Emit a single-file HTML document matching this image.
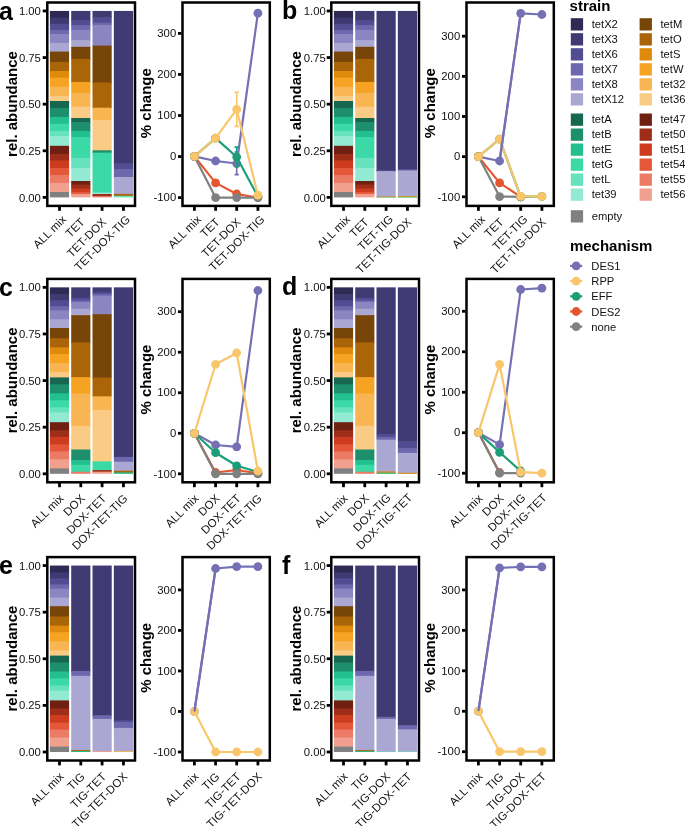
<!DOCTYPE html>
<html><head><meta charset="utf-8"><style>
html,body{margin:0;padding:0;background:#fff;}
svg{display:block;will-change:transform;}
</style></head><body>
<svg width="685" height="826" viewBox="0 0 685 826" font-family="Liberation Sans, sans-serif">
<rect width="685" height="826" fill="#fff"/>
<text x="-1" y="19.6" font-size="25" font-weight="bold" fill="#000">a</text>
<text transform="translate(17,104) rotate(-90)" text-anchor="middle" font-size="15" font-weight="bold" fill="#000">rel. abundance</text>
<rect x="49.9" y="10.95" width="19.2" height="7.55" fill="#2e2a53"/>
<rect x="49.9" y="17.7" width="19.2" height="6.9" fill="#3f3a72"/>
<rect x="49.9" y="23.8" width="19.2" height="6.8" fill="#524c93"/>
<rect x="49.9" y="29.8" width="19.2" height="5" fill="#6d67ae"/>
<rect x="49.9" y="34" width="19.2" height="9.7" fill="#8b85c1"/>
<rect x="49.9" y="42.9" width="19.2" height="9.5" fill="#aba7d3"/>
<rect x="49.9" y="51.6" width="19.2" height="11.1" fill="#784508"/>
<rect x="49.9" y="61.9" width="19.2" height="9.9" fill="#aa6508"/>
<rect x="49.9" y="71" width="19.2" height="7.4" fill="#df8a0c"/>
<rect x="49.9" y="77.6" width="19.2" height="9.9" fill="#f6a324"/>
<rect x="49.9" y="86.7" width="19.2" height="9.9" fill="#f8b552"/>
<rect x="49.9" y="95.8" width="19.2" height="6" fill="#f9cb85"/>
<rect x="49.9" y="101" width="19.2" height="7.7" fill="#176650"/>
<rect x="49.9" y="107.9" width="19.2" height="9.8" fill="#1d8f6c"/>
<rect x="49.9" y="116.9" width="19.2" height="7.7" fill="#22c08e"/>
<rect x="49.9" y="123.8" width="19.2" height="7.9" fill="#3ad9a6"/>
<rect x="49.9" y="130.9" width="19.2" height="5.9" fill="#66e2bc"/>
<rect x="49.9" y="136" width="19.2" height="10.6" fill="#93ead2"/>
<rect x="49.9" y="145.8" width="19.2" height="8.9" fill="#6f2013"/>
<rect x="49.9" y="153.9" width="19.2" height="7.4" fill="#9e2e19"/>
<rect x="49.9" y="160.5" width="19.2" height="8.3" fill="#cd3c1e"/>
<rect x="49.9" y="168" width="19.2" height="7.8" fill="#e4573a"/>
<rect x="49.9" y="175" width="19.2" height="8.7" fill="#eb7b65"/>
<rect x="49.9" y="182.9" width="19.2" height="9.9" fill="#f19f8f"/>
<rect x="49.9" y="192" width="19.2" height="5.4" fill="#808080"/>
<rect x="71.2" y="10.95" width="19.2" height="9.95" fill="#3f3a72"/>
<rect x="71.2" y="20.1" width="19.2" height="5.7" fill="#524c93"/>
<rect x="71.2" y="25" width="19.2" height="5.6" fill="#6d67ae"/>
<rect x="71.2" y="29.8" width="19.2" height="11.1" fill="#8b85c1"/>
<rect x="71.2" y="40.1" width="19.2" height="7.5" fill="#aba7d3"/>
<rect x="71.2" y="46.8" width="19.2" height="12.9" fill="#784508"/>
<rect x="71.2" y="58.9" width="19.2" height="23.8" fill="#aa6508"/>
<rect x="71.2" y="81.9" width="19.2" height="11.7" fill="#f6a324"/>
<rect x="71.2" y="92.8" width="19.2" height="14.7" fill="#f8b552"/>
<rect x="71.2" y="106.7" width="19.2" height="12.1" fill="#f9cb85"/>
<rect x="71.2" y="118" width="19.2" height="4.8" fill="#176650"/>
<rect x="71.2" y="122" width="19.2" height="9.7" fill="#1d8f6c"/>
<rect x="71.2" y="130.9" width="19.2" height="6.9" fill="#22c08e"/>
<rect x="71.2" y="137" width="19.2" height="21.7" fill="#3ad9a6"/>
<rect x="71.2" y="157.9" width="19.2" height="10.8" fill="#66e2bc"/>
<rect x="71.2" y="167.9" width="19.2" height="13.9" fill="#93ead2"/>
<rect x="71.2" y="181" width="19.2" height="4.4" fill="#6f2013"/>
<rect x="71.2" y="184.6" width="19.2" height="4.7" fill="#9e2e19"/>
<rect x="71.2" y="188.5" width="19.2" height="4.2" fill="#cd3c1e"/>
<rect x="71.2" y="191.9" width="19.2" height="2.8" fill="#e4573a"/>
<rect x="71.2" y="193.9" width="19.2" height="3.5" fill="#f19f8f"/>
<rect x="92.5" y="10.95" width="19.2" height="6.95" fill="#3f3a72"/>
<rect x="92.5" y="17.1" width="19.2" height="6.3" fill="#524c93"/>
<rect x="92.5" y="22.6" width="19.2" height="3.2" fill="#6d67ae"/>
<rect x="92.5" y="25" width="19.2" height="21.4" fill="#8b85c1"/>
<rect x="92.5" y="45.6" width="19.2" height="37.7" fill="#784508"/>
<rect x="92.5" y="82.5" width="19.2" height="26" fill="#aa6508"/>
<rect x="92.5" y="107.7" width="19.2" height="13.1" fill="#f8b552"/>
<rect x="92.5" y="120" width="19.2" height="31.1" fill="#f9cb85"/>
<rect x="92.5" y="150.3" width="19.2" height="3.1" fill="#1d8f6c"/>
<rect x="92.5" y="152.6" width="19.2" height="40.7" fill="#3ad9a6"/>
<rect x="92.5" y="192.5" width="19.2" height="2.3" fill="#93ead2"/>
<rect x="92.5" y="194" width="19.2" height="2.8" fill="#9e2e19"/>
<rect x="92.5" y="196" width="19.2" height="1.4" fill="#eb7b65"/>
<rect x="113.85" y="10.95" width="19.2" height="153.05" fill="#3f3a72"/>
<rect x="113.85" y="163.2" width="19.2" height="6.6" fill="#524c93"/>
<rect x="113.85" y="169" width="19.2" height="8.8" fill="#6d67ae"/>
<rect x="113.85" y="177" width="19.2" height="17.7" fill="#aba7d3"/>
<rect x="113.85" y="193.9" width="19.2" height="2.7" fill="#aa6508"/>
<rect x="113.85" y="195.8" width="19.2" height="1.6" fill="#66e2bc"/>
<rect x="47.3" y="2.5" width="87.7" height="203.4" fill="none" stroke="#000" stroke-width="2.5"/>
<line x1="42.7" x2="46.3" y1="10.95" y2="10.95" stroke="#000" stroke-width="2.8"/>
<text x="40.9" y="15.05" text-anchor="end" font-size="11.3" fill="#111">1.00</text>
<line x1="42.7" x2="46.3" y1="57.56" y2="57.56" stroke="#000" stroke-width="2.8"/>
<text x="40.9" y="61.66" text-anchor="end" font-size="11.3" fill="#111">0.75</text>
<line x1="42.7" x2="46.3" y1="104.18" y2="104.18" stroke="#000" stroke-width="2.8"/>
<text x="40.9" y="108.28" text-anchor="end" font-size="11.3" fill="#111">0.50</text>
<line x1="42.7" x2="46.3" y1="150.79" y2="150.79" stroke="#000" stroke-width="2.8"/>
<text x="40.9" y="154.89" text-anchor="end" font-size="11.3" fill="#111">0.25</text>
<line x1="42.7" x2="46.3" y1="197.4" y2="197.4" stroke="#000" stroke-width="2.8"/>
<text x="40.9" y="201.5" text-anchor="end" font-size="11.3" fill="#111">0.00</text>
<line x1="59.5" x2="59.5" y1="206.5" y2="210.8" stroke="#000" stroke-width="2.8"/>
<text transform="translate(66.92,220.08) rotate(-45)" text-anchor="end" font-size="11.5" fill="#111">ALL mix</text>
<line x1="80.8" x2="80.8" y1="206.5" y2="210.8" stroke="#000" stroke-width="2.8"/>
<text transform="translate(85.6,222.7) rotate(-45)" text-anchor="end" font-size="11.5" fill="#111">TET</text>
<line x1="102.1" x2="102.1" y1="206.5" y2="210.8" stroke="#000" stroke-width="2.8"/>
<text transform="translate(106.9,222.7) rotate(-45)" text-anchor="end" font-size="11.5" fill="#111">TET-DOX</text>
<line x1="123.45" x2="123.45" y1="206.5" y2="210.8" stroke="#000" stroke-width="2.8"/>
<text transform="translate(130.87,220.08) rotate(-45)" text-anchor="end" font-size="11.5" fill="#111">TET-DOX-TIG</text>
<text transform="translate(150.9,103.2) rotate(-90)" text-anchor="middle" font-size="15" font-weight="bold" fill="#000">% change</text>
<line x1="178" x2="181.5" y1="33.4" y2="33.4" stroke="#000" stroke-width="2.8"/>
<text x="176.2" y="37.1" text-anchor="end" font-size="11.3" fill="#111">300</text>
<line x1="178" x2="181.5" y1="74.45" y2="74.45" stroke="#000" stroke-width="2.8"/>
<text x="176.2" y="78.15" text-anchor="end" font-size="11.3" fill="#111">200</text>
<line x1="178" x2="181.5" y1="115.5" y2="115.5" stroke="#000" stroke-width="2.8"/>
<text x="176.2" y="119.2" text-anchor="end" font-size="11.3" fill="#111">100</text>
<line x1="178" x2="181.5" y1="156.55" y2="156.55" stroke="#000" stroke-width="2.8"/>
<text x="176.2" y="160.25" text-anchor="end" font-size="11.3" fill="#111">0</text>
<line x1="178" x2="181.5" y1="197.6" y2="197.6" stroke="#000" stroke-width="2.8"/>
<text x="176.2" y="201.3" text-anchor="end" font-size="11.3" fill="#111">-100</text>
<line x1="194.4" x2="194.4" y1="206.5" y2="210.8" stroke="#000" stroke-width="2.8"/>
<text transform="translate(201.82,220.08) rotate(-45)" text-anchor="end" font-size="11.5" fill="#111">ALL mix</text>
<line x1="215.6" x2="215.6" y1="206.5" y2="210.8" stroke="#000" stroke-width="2.8"/>
<text transform="translate(220.4,222.7) rotate(-45)" text-anchor="end" font-size="11.5" fill="#111">TET</text>
<line x1="236.7" x2="236.7" y1="206.5" y2="210.8" stroke="#000" stroke-width="2.8"/>
<text transform="translate(241.5,222.7) rotate(-45)" text-anchor="end" font-size="11.5" fill="#111">TET-DOX</text>
<line x1="257.9" x2="257.9" y1="206.5" y2="210.8" stroke="#000" stroke-width="2.8"/>
<text transform="translate(265.32,220.08) rotate(-45)" text-anchor="end" font-size="11.5" fill="#111">TET-DOX-TIG</text>
<polyline points="194.4,156.4 215.6,161 236.7,163.5 257.9,13.2" fill="none" stroke="#7570b3" stroke-width="2.2" stroke-linejoin="round"/>
<circle cx="194.4" cy="156.4" r="4.4" fill="#7570b3"/>
<circle cx="215.6" cy="161" r="4.4" fill="#7570b3"/>
<circle cx="236.7" cy="163.5" r="4.4" fill="#7570b3"/>
<circle cx="257.9" cy="13.2" r="4.4" fill="#7570b3"/>
<path d="M236.7,152V174.6M234.5,152H238.9M234.5,174.6H238.9" stroke="#7570b3" stroke-width="1.6" fill="none"/>
<polyline points="194.4,156.4 215.6,182.9 236.7,194 257.9,197.6" fill="none" stroke="#e4572e" stroke-width="2.2" stroke-linejoin="round"/>
<circle cx="194.4" cy="156.4" r="4.4" fill="#e4572e"/>
<circle cx="215.6" cy="182.9" r="4.4" fill="#e4572e"/>
<circle cx="236.7" cy="194" r="4.4" fill="#e4572e"/>
<circle cx="257.9" cy="197.6" r="4.4" fill="#e4572e"/>
<polyline points="194.4,156.4 215.6,138.1 236.7,157 257.9,196.5" fill="none" stroke="#1b9e77" stroke-width="2.2" stroke-linejoin="round"/>
<circle cx="194.4" cy="156.4" r="4.4" fill="#1b9e77"/>
<circle cx="215.6" cy="138.1" r="4.4" fill="#1b9e77"/>
<circle cx="236.7" cy="157" r="4.4" fill="#1b9e77"/>
<circle cx="257.9" cy="196.5" r="4.4" fill="#1b9e77"/>
<path d="M215.6,135.5V140.8M213.4,135.5H217.8M213.4,140.8H217.8" stroke="#1b9e77" stroke-width="1.6" fill="none"/>
<path d="M236.7,147.1V166.6M234.5,147.1H238.9M234.5,166.6H238.9" stroke="#1b9e77" stroke-width="1.6" fill="none"/>
<polyline points="194.4,156.4 215.6,197.6 236.7,197.6 257.9,197.6" fill="none" stroke="#808080" stroke-width="2.2" stroke-linejoin="round"/>
<circle cx="194.4" cy="156.4" r="4.4" fill="#808080"/>
<circle cx="215.6" cy="197.6" r="4.4" fill="#808080"/>
<circle cx="236.7" cy="197.6" r="4.4" fill="#808080"/>
<circle cx="257.9" cy="197.6" r="4.4" fill="#808080"/>
<polyline points="194.4,156.4 215.6,138.1 236.7,109.4 257.9,195.2" fill="none" stroke="#f9c66b" stroke-width="2.2" stroke-linejoin="round"/>
<circle cx="194.4" cy="156.4" r="4.4" fill="#f9c66b"/>
<circle cx="215.6" cy="138.1" r="4.4" fill="#f9c66b"/>
<circle cx="236.7" cy="109.4" r="4.4" fill="#f9c66b"/>
<circle cx="257.9" cy="195.2" r="4.4" fill="#f9c66b"/>
<path d="M236.7,92.2V126.4M234.5,92.2H238.9M234.5,126.4H238.9" stroke="#f9c66b" stroke-width="1.6" fill="none"/>
<rect x="182.5" y="2.5" width="87.3" height="203.4" fill="none" stroke="#000" stroke-width="2.5"/>
<text x="282" y="18.9" font-size="25" font-weight="bold" fill="#000">b</text>
<text transform="translate(301,104) rotate(-90)" text-anchor="middle" font-size="15" font-weight="bold" fill="#000">rel. abundance</text>
<rect x="333.9" y="10.95" width="19.2" height="7.55" fill="#2e2a53"/>
<rect x="333.9" y="17.7" width="19.2" height="6.9" fill="#3f3a72"/>
<rect x="333.9" y="23.8" width="19.2" height="6.8" fill="#524c93"/>
<rect x="333.9" y="29.8" width="19.2" height="5" fill="#6d67ae"/>
<rect x="333.9" y="34" width="19.2" height="9.7" fill="#8b85c1"/>
<rect x="333.9" y="42.9" width="19.2" height="9.5" fill="#aba7d3"/>
<rect x="333.9" y="51.6" width="19.2" height="11.1" fill="#784508"/>
<rect x="333.9" y="61.9" width="19.2" height="9.9" fill="#aa6508"/>
<rect x="333.9" y="71" width="19.2" height="7.4" fill="#df8a0c"/>
<rect x="333.9" y="77.6" width="19.2" height="9.9" fill="#f6a324"/>
<rect x="333.9" y="86.7" width="19.2" height="9.9" fill="#f8b552"/>
<rect x="333.9" y="95.8" width="19.2" height="6" fill="#f9cb85"/>
<rect x="333.9" y="101" width="19.2" height="7.7" fill="#176650"/>
<rect x="333.9" y="107.9" width="19.2" height="9.8" fill="#1d8f6c"/>
<rect x="333.9" y="116.9" width="19.2" height="7.7" fill="#22c08e"/>
<rect x="333.9" y="123.8" width="19.2" height="7.9" fill="#3ad9a6"/>
<rect x="333.9" y="130.9" width="19.2" height="5.9" fill="#66e2bc"/>
<rect x="333.9" y="136" width="19.2" height="10.6" fill="#93ead2"/>
<rect x="333.9" y="145.8" width="19.2" height="8.9" fill="#6f2013"/>
<rect x="333.9" y="153.9" width="19.2" height="7.4" fill="#9e2e19"/>
<rect x="333.9" y="160.5" width="19.2" height="8.3" fill="#cd3c1e"/>
<rect x="333.9" y="168" width="19.2" height="7.8" fill="#e4573a"/>
<rect x="333.9" y="175" width="19.2" height="8.7" fill="#eb7b65"/>
<rect x="333.9" y="182.9" width="19.2" height="9.9" fill="#f19f8f"/>
<rect x="333.9" y="192" width="19.2" height="5.4" fill="#808080"/>
<rect x="355.2" y="10.95" width="19.2" height="9.95" fill="#3f3a72"/>
<rect x="355.2" y="20.1" width="19.2" height="5.7" fill="#524c93"/>
<rect x="355.2" y="25" width="19.2" height="5.6" fill="#6d67ae"/>
<rect x="355.2" y="29.8" width="19.2" height="11.1" fill="#8b85c1"/>
<rect x="355.2" y="40.1" width="19.2" height="7.5" fill="#aba7d3"/>
<rect x="355.2" y="46.8" width="19.2" height="12.9" fill="#784508"/>
<rect x="355.2" y="58.9" width="19.2" height="23.8" fill="#aa6508"/>
<rect x="355.2" y="81.9" width="19.2" height="11.7" fill="#f6a324"/>
<rect x="355.2" y="92.8" width="19.2" height="14.7" fill="#f8b552"/>
<rect x="355.2" y="106.7" width="19.2" height="12.1" fill="#f9cb85"/>
<rect x="355.2" y="118" width="19.2" height="4.8" fill="#176650"/>
<rect x="355.2" y="122" width="19.2" height="9.7" fill="#1d8f6c"/>
<rect x="355.2" y="130.9" width="19.2" height="6.9" fill="#22c08e"/>
<rect x="355.2" y="137" width="19.2" height="21.7" fill="#3ad9a6"/>
<rect x="355.2" y="157.9" width="19.2" height="10.8" fill="#66e2bc"/>
<rect x="355.2" y="167.9" width="19.2" height="13.9" fill="#93ead2"/>
<rect x="355.2" y="181" width="19.2" height="4.4" fill="#6f2013"/>
<rect x="355.2" y="184.6" width="19.2" height="4.7" fill="#9e2e19"/>
<rect x="355.2" y="188.5" width="19.2" height="4.2" fill="#cd3c1e"/>
<rect x="355.2" y="191.9" width="19.2" height="2.8" fill="#e4573a"/>
<rect x="355.2" y="193.9" width="19.2" height="3.5" fill="#f19f8f"/>
<rect x="376.5" y="10.95" width="19.2" height="159.85" fill="#3f3a72"/>
<rect x="376.5" y="170" width="19.2" height="1.9" fill="#524c93"/>
<rect x="376.5" y="171.1" width="19.2" height="26.2" fill="#aba7d3"/>
<rect x="376.5" y="196.5" width="19.2" height="0.9" fill="#df8a0c"/>
<rect x="376.5" y="197" width="19.2" height="0.4" fill="#3ad9a6"/>
<rect x="397.85" y="10.95" width="19.2" height="159.35" fill="#3f3a72"/>
<rect x="397.85" y="169.5" width="19.2" height="1.8" fill="#6d67ae"/>
<rect x="397.85" y="170.5" width="19.2" height="26.3" fill="#aba7d3"/>
<rect x="397.85" y="196" width="19.2" height="1.4" fill="#df8a0c"/>
<rect x="397.85" y="196.8" width="19.2" height="0.6" fill="#3ad9a6"/>
<rect x="331.3" y="2.5" width="87.7" height="203.4" fill="none" stroke="#000" stroke-width="2.5"/>
<line x1="326.7" x2="330.3" y1="10.95" y2="10.95" stroke="#000" stroke-width="2.8"/>
<text x="325.8" y="15.05" text-anchor="end" font-size="11.3" fill="#111">1.00</text>
<line x1="326.7" x2="330.3" y1="57.56" y2="57.56" stroke="#000" stroke-width="2.8"/>
<text x="325.8" y="61.66" text-anchor="end" font-size="11.3" fill="#111">0.75</text>
<line x1="326.7" x2="330.3" y1="104.18" y2="104.18" stroke="#000" stroke-width="2.8"/>
<text x="325.8" y="108.28" text-anchor="end" font-size="11.3" fill="#111">0.50</text>
<line x1="326.7" x2="330.3" y1="150.79" y2="150.79" stroke="#000" stroke-width="2.8"/>
<text x="325.8" y="154.89" text-anchor="end" font-size="11.3" fill="#111">0.25</text>
<line x1="326.7" x2="330.3" y1="197.4" y2="197.4" stroke="#000" stroke-width="2.8"/>
<text x="325.8" y="201.5" text-anchor="end" font-size="11.3" fill="#111">0.00</text>
<line x1="343.5" x2="343.5" y1="206.5" y2="210.8" stroke="#000" stroke-width="2.8"/>
<text transform="translate(350.92,220.08) rotate(-45)" text-anchor="end" font-size="11.5" fill="#111">ALL mix</text>
<line x1="364.8" x2="364.8" y1="206.5" y2="210.8" stroke="#000" stroke-width="2.8"/>
<text transform="translate(369.6,222.7) rotate(-45)" text-anchor="end" font-size="11.5" fill="#111">TET</text>
<line x1="386.1" x2="386.1" y1="206.5" y2="210.8" stroke="#000" stroke-width="2.8"/>
<text transform="translate(393.73,219.87) rotate(-45)" text-anchor="end" font-size="11.5" fill="#111">TET-TIG</text>
<line x1="407.45" x2="407.45" y1="206.5" y2="210.8" stroke="#000" stroke-width="2.8"/>
<text transform="translate(412.25,222.7) rotate(-45)" text-anchor="end" font-size="11.5" fill="#111">TET-TIG-DOX</text>
<text transform="translate(434.9,103.2) rotate(-90)" text-anchor="middle" font-size="15" font-weight="bold" fill="#000">% change</text>
<line x1="462" x2="465.5" y1="36.2" y2="36.2" stroke="#000" stroke-width="2.8"/>
<text x="460.2" y="39.9" text-anchor="end" font-size="11.3" fill="#111">300</text>
<line x1="462" x2="465.5" y1="76.35" y2="76.35" stroke="#000" stroke-width="2.8"/>
<text x="460.2" y="80.05" text-anchor="end" font-size="11.3" fill="#111">200</text>
<line x1="462" x2="465.5" y1="116.5" y2="116.5" stroke="#000" stroke-width="2.8"/>
<text x="460.2" y="120.2" text-anchor="end" font-size="11.3" fill="#111">100</text>
<line x1="462" x2="465.5" y1="156.65" y2="156.65" stroke="#000" stroke-width="2.8"/>
<text x="460.2" y="160.35" text-anchor="end" font-size="11.3" fill="#111">0</text>
<line x1="462" x2="465.5" y1="196.8" y2="196.8" stroke="#000" stroke-width="2.8"/>
<text x="460.2" y="200.5" text-anchor="end" font-size="11.3" fill="#111">-100</text>
<line x1="478.4" x2="478.4" y1="206.5" y2="210.8" stroke="#000" stroke-width="2.8"/>
<text transform="translate(485.82,220.08) rotate(-45)" text-anchor="end" font-size="11.5" fill="#111">ALL mix</text>
<line x1="499.6" x2="499.6" y1="206.5" y2="210.8" stroke="#000" stroke-width="2.8"/>
<text transform="translate(504.4,222.7) rotate(-45)" text-anchor="end" font-size="11.5" fill="#111">TET</text>
<line x1="520.7" x2="520.7" y1="206.5" y2="210.8" stroke="#000" stroke-width="2.8"/>
<text transform="translate(528.33,219.87) rotate(-45)" text-anchor="end" font-size="11.5" fill="#111">TET-TIG</text>
<line x1="541.9" x2="541.9" y1="206.5" y2="210.8" stroke="#000" stroke-width="2.8"/>
<text transform="translate(546.7,222.7) rotate(-45)" text-anchor="end" font-size="11.5" fill="#111">TET-TIG-DOX</text>
<polyline points="478.4,156.6 499.6,161 520.7,13.3 541.9,14.5" fill="none" stroke="#7570b3" stroke-width="2.2" stroke-linejoin="round"/>
<circle cx="478.4" cy="156.6" r="4.4" fill="#7570b3"/>
<circle cx="499.6" cy="161" r="4.4" fill="#7570b3"/>
<circle cx="520.7" cy="13.3" r="4.4" fill="#7570b3"/>
<circle cx="541.9" cy="14.5" r="4.4" fill="#7570b3"/>
<polyline points="478.4,156.6 499.6,182.9 520.7,196.8" fill="none" stroke="#e4572e" stroke-width="2.2" stroke-linejoin="round"/>
<circle cx="478.4" cy="156.6" r="4.4" fill="#e4572e"/>
<circle cx="499.6" cy="182.9" r="4.4" fill="#e4572e"/>
<circle cx="520.7" cy="196.8" r="4.4" fill="#e4572e"/>
<polyline points="478.4,156.6 499.6,139.1 520.7,196.8 541.9,196.4" fill="none" stroke="#1b9e77" stroke-width="2.2" stroke-linejoin="round"/>
<circle cx="478.4" cy="156.6" r="4.4" fill="#1b9e77"/>
<circle cx="499.6" cy="139.1" r="4.4" fill="#1b9e77"/>
<circle cx="520.7" cy="196.8" r="4.4" fill="#1b9e77"/>
<circle cx="541.9" cy="196.4" r="4.4" fill="#1b9e77"/>
<path d="M499.6,136.5V141.5M497.4,136.5H501.8M497.4,141.5H501.8" stroke="#1b9e77" stroke-width="1.6" fill="none"/>
<path d="M541.9,194V199M539.7,194H544.1M539.7,199H544.1" stroke="#1b9e77" stroke-width="1.6" fill="none"/>
<polyline points="478.4,156.6 499.6,196.6 520.7,196.8" fill="none" stroke="#808080" stroke-width="2.2" stroke-linejoin="round"/>
<circle cx="478.4" cy="156.6" r="4.4" fill="#808080"/>
<circle cx="499.6" cy="196.6" r="4.4" fill="#808080"/>
<circle cx="520.7" cy="196.8" r="4.4" fill="#808080"/>
<polyline points="478.4,156.6 499.6,139.1 520.7,196.4 541.9,196.4" fill="none" stroke="#f9c66b" stroke-width="2.2" stroke-linejoin="round"/>
<circle cx="478.4" cy="156.6" r="4.4" fill="#f9c66b"/>
<circle cx="499.6" cy="139.1" r="4.4" fill="#f9c66b"/>
<circle cx="520.7" cy="196.4" r="4.4" fill="#f9c66b"/>
<circle cx="541.9" cy="196.4" r="4.4" fill="#f9c66b"/>
<polyline points="499.6,161 520.7,13.3" fill="none" stroke="#7570b3" stroke-width="2.2"/>
<rect x="466.5" y="2.5" width="87.3" height="203.4" fill="none" stroke="#000" stroke-width="2.5"/>
<text x="-1" y="296" font-size="25" font-weight="bold" fill="#000">c</text>
<text transform="translate(17,380.4) rotate(-90)" text-anchor="middle" font-size="15" font-weight="bold" fill="#000">rel. abundance</text>
<rect x="49.9" y="287.35" width="19.2" height="7.55" fill="#2e2a53"/>
<rect x="49.9" y="294.1" width="19.2" height="6.9" fill="#3f3a72"/>
<rect x="49.9" y="300.2" width="19.2" height="6.8" fill="#524c93"/>
<rect x="49.9" y="306.2" width="19.2" height="5" fill="#6d67ae"/>
<rect x="49.9" y="310.4" width="19.2" height="9.7" fill="#8b85c1"/>
<rect x="49.9" y="319.3" width="19.2" height="9.5" fill="#aba7d3"/>
<rect x="49.9" y="328" width="19.2" height="11.1" fill="#784508"/>
<rect x="49.9" y="338.3" width="19.2" height="9.9" fill="#aa6508"/>
<rect x="49.9" y="347.4" width="19.2" height="7.4" fill="#df8a0c"/>
<rect x="49.9" y="354" width="19.2" height="9.9" fill="#f6a324"/>
<rect x="49.9" y="363.1" width="19.2" height="9.9" fill="#f8b552"/>
<rect x="49.9" y="372.2" width="19.2" height="6" fill="#f9cb85"/>
<rect x="49.9" y="377.4" width="19.2" height="7.7" fill="#176650"/>
<rect x="49.9" y="384.3" width="19.2" height="9.8" fill="#1d8f6c"/>
<rect x="49.9" y="393.3" width="19.2" height="7.7" fill="#22c08e"/>
<rect x="49.9" y="400.2" width="19.2" height="7.9" fill="#3ad9a6"/>
<rect x="49.9" y="407.3" width="19.2" height="5.9" fill="#66e2bc"/>
<rect x="49.9" y="412.4" width="19.2" height="10.6" fill="#93ead2"/>
<rect x="49.9" y="422.2" width="19.2" height="8.9" fill="#6f2013"/>
<rect x="49.9" y="430.3" width="19.2" height="7.4" fill="#9e2e19"/>
<rect x="49.9" y="436.9" width="19.2" height="8.3" fill="#cd3c1e"/>
<rect x="49.9" y="444.4" width="19.2" height="7.8" fill="#e4573a"/>
<rect x="49.9" y="451.4" width="19.2" height="8.7" fill="#eb7b65"/>
<rect x="49.9" y="459.3" width="19.2" height="9.9" fill="#f19f8f"/>
<rect x="49.9" y="468.4" width="19.2" height="5.4" fill="#808080"/>
<rect x="71.2" y="287.35" width="19.2" height="11.25" fill="#3f3a72"/>
<rect x="71.2" y="297.8" width="19.2" height="3.4" fill="#524c93"/>
<rect x="71.2" y="300.4" width="19.2" height="2.3" fill="#6d67ae"/>
<rect x="71.2" y="301.9" width="19.2" height="7.6" fill="#8b85c1"/>
<rect x="71.2" y="308.7" width="19.2" height="7.3" fill="#aba7d3"/>
<rect x="71.2" y="315.2" width="19.2" height="28" fill="#784508"/>
<rect x="71.2" y="342.4" width="19.2" height="35.5" fill="#aa6508"/>
<rect x="71.2" y="377.1" width="19.2" height="17.2" fill="#f6a324"/>
<rect x="71.2" y="393.5" width="19.2" height="33.1" fill="#f8b552"/>
<rect x="71.2" y="425.8" width="19.2" height="24.5" fill="#f9cb85"/>
<rect x="71.2" y="449.5" width="19.2" height="11.3" fill="#1d8f6c"/>
<rect x="71.2" y="460" width="19.2" height="5.6" fill="#22c08e"/>
<rect x="71.2" y="464.8" width="19.2" height="7.7" fill="#3ad9a6"/>
<rect x="71.2" y="471.7" width="19.2" height="2.1" fill="#eb7b65"/>
<rect x="92.5" y="287.35" width="19.2" height="5.35" fill="#3f3a72"/>
<rect x="92.5" y="291.9" width="19.2" height="2.8" fill="#524c93"/>
<rect x="92.5" y="293.9" width="19.2" height="2.6" fill="#6d67ae"/>
<rect x="92.5" y="295.7" width="19.2" height="19.3" fill="#8b85c1"/>
<rect x="92.5" y="314.2" width="19.2" height="64.1" fill="#784508"/>
<rect x="92.5" y="377.5" width="19.2" height="19.6" fill="#aa6508"/>
<rect x="92.5" y="396.3" width="19.2" height="14.5" fill="#f8b552"/>
<rect x="92.5" y="410" width="19.2" height="52.2" fill="#f9cb85"/>
<rect x="92.5" y="461.4" width="19.2" height="9.5" fill="#3ad9a6"/>
<rect x="92.5" y="470.1" width="19.2" height="2.4" fill="#9e2e19"/>
<rect x="92.5" y="471.7" width="19.2" height="2.1" fill="#f19f8f"/>
<rect x="113.85" y="287.35" width="19.2" height="170.35" fill="#3f3a72"/>
<rect x="113.85" y="456.9" width="19.2" height="5.6" fill="#6d67ae"/>
<rect x="113.85" y="461.7" width="19.2" height="9.8" fill="#aba7d3"/>
<rect x="113.85" y="470.7" width="19.2" height="2.5" fill="#aa6508"/>
<rect x="113.85" y="472.4" width="19.2" height="1.4" fill="#22c08e"/>
<rect x="47.3" y="278.9" width="87.7" height="203.4" fill="none" stroke="#000" stroke-width="2.5"/>
<line x1="42.7" x2="46.3" y1="287.35" y2="287.35" stroke="#000" stroke-width="2.8"/>
<text x="40.9" y="291.45" text-anchor="end" font-size="11.3" fill="#111">1.00</text>
<line x1="42.7" x2="46.3" y1="333.96" y2="333.96" stroke="#000" stroke-width="2.8"/>
<text x="40.9" y="338.06" text-anchor="end" font-size="11.3" fill="#111">0.75</text>
<line x1="42.7" x2="46.3" y1="380.57" y2="380.57" stroke="#000" stroke-width="2.8"/>
<text x="40.9" y="384.68" text-anchor="end" font-size="11.3" fill="#111">0.50</text>
<line x1="42.7" x2="46.3" y1="427.19" y2="427.19" stroke="#000" stroke-width="2.8"/>
<text x="40.9" y="431.29" text-anchor="end" font-size="11.3" fill="#111">0.25</text>
<line x1="42.7" x2="46.3" y1="473.8" y2="473.8" stroke="#000" stroke-width="2.8"/>
<text x="40.9" y="477.9" text-anchor="end" font-size="11.3" fill="#111">0.00</text>
<line x1="59.5" x2="59.5" y1="482.9" y2="487.2" stroke="#000" stroke-width="2.8"/>
<text transform="translate(64.3,499.1) rotate(-45)" text-anchor="end" font-size="11.5" fill="#111">ALL mix</text>
<line x1="80.8" x2="80.8" y1="482.9" y2="487.2" stroke="#000" stroke-width="2.8"/>
<text transform="translate(85.6,499.1) rotate(-45)" text-anchor="end" font-size="11.5" fill="#111">DOX</text>
<line x1="102.1" x2="102.1" y1="482.9" y2="487.2" stroke="#000" stroke-width="2.8"/>
<text transform="translate(106.9,499.1) rotate(-45)" text-anchor="end" font-size="11.5" fill="#111">DOX-TET</text>
<line x1="123.45" x2="123.45" y1="482.9" y2="487.2" stroke="#000" stroke-width="2.8"/>
<text transform="translate(128.25,499.1) rotate(-45)" text-anchor="end" font-size="11.5" fill="#111">DOX-TET-TIG</text>
<text transform="translate(150.9,379.6) rotate(-90)" text-anchor="middle" font-size="15" font-weight="bold" fill="#000">% change</text>
<line x1="178" x2="181.5" y1="311.7" y2="311.7" stroke="#000" stroke-width="2.8"/>
<text x="176.2" y="315.4" text-anchor="end" font-size="11.3" fill="#111">300</text>
<line x1="178" x2="181.5" y1="352.23" y2="352.23" stroke="#000" stroke-width="2.8"/>
<text x="176.2" y="355.93" text-anchor="end" font-size="11.3" fill="#111">200</text>
<line x1="178" x2="181.5" y1="392.75" y2="392.75" stroke="#000" stroke-width="2.8"/>
<text x="176.2" y="396.45" text-anchor="end" font-size="11.3" fill="#111">100</text>
<line x1="178" x2="181.5" y1="433.27" y2="433.27" stroke="#000" stroke-width="2.8"/>
<text x="176.2" y="436.97" text-anchor="end" font-size="11.3" fill="#111">0</text>
<line x1="178" x2="181.5" y1="473.8" y2="473.8" stroke="#000" stroke-width="2.8"/>
<text x="176.2" y="477.5" text-anchor="end" font-size="11.3" fill="#111">-100</text>
<line x1="194.4" x2="194.4" y1="482.9" y2="487.2" stroke="#000" stroke-width="2.8"/>
<text transform="translate(199.2,499.1) rotate(-45)" text-anchor="end" font-size="11.5" fill="#111">ALL mix</text>
<line x1="215.6" x2="215.6" y1="482.9" y2="487.2" stroke="#000" stroke-width="2.8"/>
<text transform="translate(220.4,499.1) rotate(-45)" text-anchor="end" font-size="11.5" fill="#111">DOX</text>
<line x1="236.7" x2="236.7" y1="482.9" y2="487.2" stroke="#000" stroke-width="2.8"/>
<text transform="translate(241.5,499.1) rotate(-45)" text-anchor="end" font-size="11.5" fill="#111">DOX-TET</text>
<line x1="257.9" x2="257.9" y1="482.9" y2="487.2" stroke="#000" stroke-width="2.8"/>
<text transform="translate(262.7,499.1) rotate(-45)" text-anchor="end" font-size="11.5" fill="#111">DOX-TET-TIG</text>
<polyline points="194.4,433.3 215.6,445 236.7,446.8 257.9,290.5" fill="none" stroke="#7570b3" stroke-width="2.2" stroke-linejoin="round"/>
<circle cx="194.4" cy="433.3" r="4.4" fill="#7570b3"/>
<circle cx="215.6" cy="445" r="4.4" fill="#7570b3"/>
<circle cx="236.7" cy="446.8" r="4.4" fill="#7570b3"/>
<circle cx="257.9" cy="290.5" r="4.4" fill="#7570b3"/>
<polyline points="194.4,433.3 215.6,472.5 236.7,470 257.9,473.3" fill="none" stroke="#e4572e" stroke-width="2.2" stroke-linejoin="round"/>
<circle cx="194.4" cy="433.3" r="4.4" fill="#e4572e"/>
<circle cx="215.6" cy="472.5" r="4.4" fill="#e4572e"/>
<circle cx="236.7" cy="470" r="4.4" fill="#e4572e"/>
<circle cx="257.9" cy="473.3" r="4.4" fill="#e4572e"/>
<polyline points="194.4,433.3 215.6,452.7 236.7,465.8 257.9,472" fill="none" stroke="#1b9e77" stroke-width="2.2" stroke-linejoin="round"/>
<circle cx="194.4" cy="433.3" r="4.4" fill="#1b9e77"/>
<circle cx="215.6" cy="452.7" r="4.4" fill="#1b9e77"/>
<circle cx="236.7" cy="465.8" r="4.4" fill="#1b9e77"/>
<circle cx="257.9" cy="472" r="4.4" fill="#1b9e77"/>
<polyline points="194.4,433.3 215.6,473.8 236.7,473.8 257.9,473.8" fill="none" stroke="#808080" stroke-width="2.2" stroke-linejoin="round"/>
<circle cx="194.4" cy="433.3" r="4.4" fill="#808080"/>
<circle cx="215.6" cy="473.8" r="4.4" fill="#808080"/>
<circle cx="236.7" cy="473.8" r="4.4" fill="#808080"/>
<circle cx="257.9" cy="473.8" r="4.4" fill="#808080"/>
<polyline points="194.4,433.3 215.6,364.3 236.7,353 257.9,471" fill="none" stroke="#f9c66b" stroke-width="2.2" stroke-linejoin="round"/>
<circle cx="194.4" cy="433.3" r="4.4" fill="#f9c66b"/>
<circle cx="215.6" cy="364.3" r="4.4" fill="#f9c66b"/>
<circle cx="236.7" cy="353" r="4.4" fill="#f9c66b"/>
<circle cx="257.9" cy="471" r="4.4" fill="#f9c66b"/>
<rect x="182.5" y="278.9" width="87.3" height="203.4" fill="none" stroke="#000" stroke-width="2.5"/>
<text x="282" y="295.3" font-size="25" font-weight="bold" fill="#000">d</text>
<text transform="translate(301,380.4) rotate(-90)" text-anchor="middle" font-size="15" font-weight="bold" fill="#000">rel. abundance</text>
<rect x="333.9" y="287.35" width="19.2" height="7.55" fill="#2e2a53"/>
<rect x="333.9" y="294.1" width="19.2" height="6.9" fill="#3f3a72"/>
<rect x="333.9" y="300.2" width="19.2" height="6.8" fill="#524c93"/>
<rect x="333.9" y="306.2" width="19.2" height="5" fill="#6d67ae"/>
<rect x="333.9" y="310.4" width="19.2" height="9.7" fill="#8b85c1"/>
<rect x="333.9" y="319.3" width="19.2" height="9.5" fill="#aba7d3"/>
<rect x="333.9" y="328" width="19.2" height="11.1" fill="#784508"/>
<rect x="333.9" y="338.3" width="19.2" height="9.9" fill="#aa6508"/>
<rect x="333.9" y="347.4" width="19.2" height="7.4" fill="#df8a0c"/>
<rect x="333.9" y="354" width="19.2" height="9.9" fill="#f6a324"/>
<rect x="333.9" y="363.1" width="19.2" height="9.9" fill="#f8b552"/>
<rect x="333.9" y="372.2" width="19.2" height="6" fill="#f9cb85"/>
<rect x="333.9" y="377.4" width="19.2" height="7.7" fill="#176650"/>
<rect x="333.9" y="384.3" width="19.2" height="9.8" fill="#1d8f6c"/>
<rect x="333.9" y="393.3" width="19.2" height="7.7" fill="#22c08e"/>
<rect x="333.9" y="400.2" width="19.2" height="7.9" fill="#3ad9a6"/>
<rect x="333.9" y="407.3" width="19.2" height="5.9" fill="#66e2bc"/>
<rect x="333.9" y="412.4" width="19.2" height="10.6" fill="#93ead2"/>
<rect x="333.9" y="422.2" width="19.2" height="8.9" fill="#6f2013"/>
<rect x="333.9" y="430.3" width="19.2" height="7.4" fill="#9e2e19"/>
<rect x="333.9" y="436.9" width="19.2" height="8.3" fill="#cd3c1e"/>
<rect x="333.9" y="444.4" width="19.2" height="7.8" fill="#e4573a"/>
<rect x="333.9" y="451.4" width="19.2" height="8.7" fill="#eb7b65"/>
<rect x="333.9" y="459.3" width="19.2" height="9.9" fill="#f19f8f"/>
<rect x="333.9" y="468.4" width="19.2" height="5.4" fill="#808080"/>
<rect x="355.2" y="287.35" width="19.2" height="11.25" fill="#3f3a72"/>
<rect x="355.2" y="297.8" width="19.2" height="3.4" fill="#524c93"/>
<rect x="355.2" y="300.4" width="19.2" height="2.3" fill="#6d67ae"/>
<rect x="355.2" y="301.9" width="19.2" height="7.6" fill="#8b85c1"/>
<rect x="355.2" y="308.7" width="19.2" height="7.3" fill="#aba7d3"/>
<rect x="355.2" y="315.2" width="19.2" height="28" fill="#784508"/>
<rect x="355.2" y="342.4" width="19.2" height="35.5" fill="#aa6508"/>
<rect x="355.2" y="377.1" width="19.2" height="17.2" fill="#f6a324"/>
<rect x="355.2" y="393.5" width="19.2" height="33.1" fill="#f8b552"/>
<rect x="355.2" y="425.8" width="19.2" height="24.5" fill="#f9cb85"/>
<rect x="355.2" y="449.5" width="19.2" height="11.3" fill="#1d8f6c"/>
<rect x="355.2" y="460" width="19.2" height="5.6" fill="#22c08e"/>
<rect x="355.2" y="464.8" width="19.2" height="7.7" fill="#3ad9a6"/>
<rect x="355.2" y="471.7" width="19.2" height="2.1" fill="#eb7b65"/>
<rect x="376.5" y="287.35" width="19.2" height="147.45" fill="#3f3a72"/>
<rect x="376.5" y="434" width="19.2" height="3.8" fill="#524c93"/>
<rect x="376.5" y="437" width="19.2" height="3.5" fill="#6d67ae"/>
<rect x="376.5" y="439.7" width="19.2" height="32.5" fill="#aba7d3"/>
<rect x="376.5" y="471.4" width="19.2" height="2.1" fill="#df8a0c"/>
<rect x="376.5" y="472.7" width="19.2" height="1.1" fill="#22c08e"/>
<rect x="397.85" y="287.35" width="19.2" height="154.55" fill="#3f3a72"/>
<rect x="397.85" y="441.1" width="19.2" height="7.7" fill="#524c93"/>
<rect x="397.85" y="448" width="19.2" height="5.7" fill="#6d67ae"/>
<rect x="397.85" y="452.9" width="19.2" height="20.7" fill="#aba7d3"/>
<rect x="397.85" y="472.8" width="19.2" height="1" fill="#df8a0c"/>
<rect x="331.3" y="278.9" width="87.7" height="203.4" fill="none" stroke="#000" stroke-width="2.5"/>
<line x1="326.7" x2="330.3" y1="287.35" y2="287.35" stroke="#000" stroke-width="2.8"/>
<text x="325.8" y="291.45" text-anchor="end" font-size="11.3" fill="#111">1.00</text>
<line x1="326.7" x2="330.3" y1="333.96" y2="333.96" stroke="#000" stroke-width="2.8"/>
<text x="325.8" y="338.06" text-anchor="end" font-size="11.3" fill="#111">0.75</text>
<line x1="326.7" x2="330.3" y1="380.57" y2="380.57" stroke="#000" stroke-width="2.8"/>
<text x="325.8" y="384.68" text-anchor="end" font-size="11.3" fill="#111">0.50</text>
<line x1="326.7" x2="330.3" y1="427.19" y2="427.19" stroke="#000" stroke-width="2.8"/>
<text x="325.8" y="431.29" text-anchor="end" font-size="11.3" fill="#111">0.25</text>
<line x1="326.7" x2="330.3" y1="473.8" y2="473.8" stroke="#000" stroke-width="2.8"/>
<text x="325.8" y="477.9" text-anchor="end" font-size="11.3" fill="#111">0.00</text>
<line x1="343.5" x2="343.5" y1="482.9" y2="487.2" stroke="#000" stroke-width="2.8"/>
<text transform="translate(348.3,499.1) rotate(-45)" text-anchor="end" font-size="11.5" fill="#111">ALL mix</text>
<line x1="364.8" x2="364.8" y1="482.9" y2="487.2" stroke="#000" stroke-width="2.8"/>
<text transform="translate(369.6,499.1) rotate(-45)" text-anchor="end" font-size="11.5" fill="#111">DOX</text>
<line x1="386.1" x2="386.1" y1="482.9" y2="487.2" stroke="#000" stroke-width="2.8"/>
<text transform="translate(391.68,498.32) rotate(-45)" text-anchor="end" font-size="11.5" fill="#111">DOX-TIG</text>
<line x1="407.45" x2="407.45" y1="482.9" y2="487.2" stroke="#000" stroke-width="2.8"/>
<text transform="translate(413.03,498.32) rotate(-45)" text-anchor="end" font-size="11.5" fill="#111">DOX-TIG-TET</text>
<text transform="translate(434.9,379.6) rotate(-90)" text-anchor="middle" font-size="15" font-weight="bold" fill="#000">% change</text>
<line x1="462" x2="465.5" y1="311.3" y2="311.3" stroke="#000" stroke-width="2.8"/>
<text x="460.2" y="315" text-anchor="end" font-size="11.3" fill="#111">300</text>
<line x1="462" x2="465.5" y1="351.77" y2="351.77" stroke="#000" stroke-width="2.8"/>
<text x="460.2" y="355.47" text-anchor="end" font-size="11.3" fill="#111">200</text>
<line x1="462" x2="465.5" y1="392.25" y2="392.25" stroke="#000" stroke-width="2.8"/>
<text x="460.2" y="395.95" text-anchor="end" font-size="11.3" fill="#111">100</text>
<line x1="462" x2="465.5" y1="432.73" y2="432.73" stroke="#000" stroke-width="2.8"/>
<text x="460.2" y="436.43" text-anchor="end" font-size="11.3" fill="#111">0</text>
<line x1="462" x2="465.5" y1="473.2" y2="473.2" stroke="#000" stroke-width="2.8"/>
<text x="460.2" y="476.9" text-anchor="end" font-size="11.3" fill="#111">-100</text>
<line x1="478.4" x2="478.4" y1="482.9" y2="487.2" stroke="#000" stroke-width="2.8"/>
<text transform="translate(483.2,499.1) rotate(-45)" text-anchor="end" font-size="11.5" fill="#111">ALL mix</text>
<line x1="499.6" x2="499.6" y1="482.9" y2="487.2" stroke="#000" stroke-width="2.8"/>
<text transform="translate(504.4,499.1) rotate(-45)" text-anchor="end" font-size="11.5" fill="#111">DOX</text>
<line x1="520.7" x2="520.7" y1="482.9" y2="487.2" stroke="#000" stroke-width="2.8"/>
<text transform="translate(526.28,498.32) rotate(-45)" text-anchor="end" font-size="11.5" fill="#111">DOX-TIG</text>
<line x1="541.9" x2="541.9" y1="482.9" y2="487.2" stroke="#000" stroke-width="2.8"/>
<text transform="translate(547.48,498.32) rotate(-45)" text-anchor="end" font-size="11.5" fill="#111">DOX-TIG-TET</text>
<polyline points="478.4,432.6 499.6,444.6 520.7,289.5 541.9,288.1" fill="none" stroke="#7570b3" stroke-width="2.2" stroke-linejoin="round"/>
<circle cx="478.4" cy="432.6" r="4.4" fill="#7570b3"/>
<circle cx="499.6" cy="444.6" r="4.4" fill="#7570b3"/>
<circle cx="520.7" cy="289.5" r="4.4" fill="#7570b3"/>
<circle cx="541.9" cy="288.1" r="4.4" fill="#7570b3"/>
<polyline points="478.4,432.6 499.6,472.5" fill="none" stroke="#e4572e" stroke-width="2.2" stroke-linejoin="round"/>
<circle cx="478.4" cy="432.6" r="4.4" fill="#e4572e"/>
<circle cx="499.6" cy="472.5" r="4.4" fill="#e4572e"/>
<polyline points="478.4,432.6 499.6,452.3 520.7,471" fill="none" stroke="#1b9e77" stroke-width="2.2" stroke-linejoin="round"/>
<circle cx="478.4" cy="432.6" r="4.4" fill="#1b9e77"/>
<circle cx="499.6" cy="452.3" r="4.4" fill="#1b9e77"/>
<circle cx="520.7" cy="471" r="4.4" fill="#1b9e77"/>
<polyline points="478.4,432.6 499.6,473.2 520.7,473.2" fill="none" stroke="#808080" stroke-width="2.2" stroke-linejoin="round"/>
<circle cx="478.4" cy="432.6" r="4.4" fill="#808080"/>
<circle cx="499.6" cy="473.2" r="4.4" fill="#808080"/>
<circle cx="520.7" cy="473.2" r="4.4" fill="#808080"/>
<polyline points="478.4,432.6 499.6,364.3 520.7,472.1 541.9,473.2" fill="none" stroke="#f9c66b" stroke-width="2.2" stroke-linejoin="round"/>
<circle cx="478.4" cy="432.6" r="4.4" fill="#f9c66b"/>
<circle cx="499.6" cy="364.3" r="4.4" fill="#f9c66b"/>
<circle cx="520.7" cy="472.1" r="4.4" fill="#f9c66b"/>
<circle cx="541.9" cy="473.2" r="4.4" fill="#f9c66b"/>
<rect x="466.5" y="278.9" width="87.3" height="203.4" fill="none" stroke="#000" stroke-width="2.5"/>
<text x="-1" y="574.2" font-size="25" font-weight="bold" fill="#000">e</text>
<text transform="translate(17,658.6) rotate(-90)" text-anchor="middle" font-size="15" font-weight="bold" fill="#000">rel. abundance</text>
<rect x="49.9" y="565.55" width="19.2" height="7.55" fill="#2e2a53"/>
<rect x="49.9" y="572.3" width="19.2" height="6.9" fill="#3f3a72"/>
<rect x="49.9" y="578.4" width="19.2" height="6.8" fill="#524c93"/>
<rect x="49.9" y="584.4" width="19.2" height="5" fill="#6d67ae"/>
<rect x="49.9" y="588.6" width="19.2" height="9.7" fill="#8b85c1"/>
<rect x="49.9" y="597.5" width="19.2" height="9.5" fill="#aba7d3"/>
<rect x="49.9" y="606.2" width="19.2" height="11.1" fill="#784508"/>
<rect x="49.9" y="616.5" width="19.2" height="9.9" fill="#aa6508"/>
<rect x="49.9" y="625.6" width="19.2" height="7.4" fill="#df8a0c"/>
<rect x="49.9" y="632.2" width="19.2" height="9.9" fill="#f6a324"/>
<rect x="49.9" y="641.3" width="19.2" height="9.9" fill="#f8b552"/>
<rect x="49.9" y="650.4" width="19.2" height="6" fill="#f9cb85"/>
<rect x="49.9" y="655.6" width="19.2" height="7.7" fill="#176650"/>
<rect x="49.9" y="662.5" width="19.2" height="9.8" fill="#1d8f6c"/>
<rect x="49.9" y="671.5" width="19.2" height="7.7" fill="#22c08e"/>
<rect x="49.9" y="678.4" width="19.2" height="7.9" fill="#3ad9a6"/>
<rect x="49.9" y="685.5" width="19.2" height="5.9" fill="#66e2bc"/>
<rect x="49.9" y="690.6" width="19.2" height="10.6" fill="#93ead2"/>
<rect x="49.9" y="700.4" width="19.2" height="8.9" fill="#6f2013"/>
<rect x="49.9" y="708.5" width="19.2" height="7.4" fill="#9e2e19"/>
<rect x="49.9" y="715.1" width="19.2" height="8.3" fill="#cd3c1e"/>
<rect x="49.9" y="722.6" width="19.2" height="7.8" fill="#e4573a"/>
<rect x="49.9" y="729.6" width="19.2" height="8.7" fill="#eb7b65"/>
<rect x="49.9" y="737.5" width="19.2" height="9.9" fill="#f19f8f"/>
<rect x="49.9" y="746.6" width="19.2" height="5.4" fill="#808080"/>
<rect x="71.2" y="565.55" width="19.2" height="106.15" fill="#3f3a72"/>
<rect x="71.2" y="670.9" width="19.2" height="5.7" fill="#6d67ae"/>
<rect x="71.2" y="675.8" width="19.2" height="75.1" fill="#aba7d3"/>
<rect x="71.2" y="750.1" width="19.2" height="1.8" fill="#aa6508"/>
<rect x="71.2" y="751.1" width="19.2" height="0.9" fill="#22c08e"/>
<rect x="92.5" y="565.55" width="19.2" height="150.45" fill="#3f3a72"/>
<rect x="92.5" y="715.2" width="19.2" height="4.5" fill="#6d67ae"/>
<rect x="92.5" y="718.9" width="19.2" height="33" fill="#aba7d3"/>
<rect x="92.5" y="751.1" width="19.2" height="0.9" fill="#f19f8f"/>
<rect x="113.85" y="565.55" width="19.2" height="155.45" fill="#3f3a72"/>
<rect x="113.85" y="720.2" width="19.2" height="2.6" fill="#524c93"/>
<rect x="113.85" y="722" width="19.2" height="6.7" fill="#6d67ae"/>
<rect x="113.85" y="727.9" width="19.2" height="24" fill="#aba7d3"/>
<rect x="113.85" y="751.1" width="19.2" height="0.9" fill="#f8b552"/>
<rect x="47.3" y="557.1" width="87.7" height="203.4" fill="none" stroke="#000" stroke-width="2.5"/>
<line x1="42.7" x2="46.3" y1="565.55" y2="565.55" stroke="#000" stroke-width="2.8"/>
<text x="40.9" y="569.65" text-anchor="end" font-size="11.3" fill="#111">1.00</text>
<line x1="42.7" x2="46.3" y1="612.16" y2="612.16" stroke="#000" stroke-width="2.8"/>
<text x="40.9" y="616.26" text-anchor="end" font-size="11.3" fill="#111">0.75</text>
<line x1="42.7" x2="46.3" y1="658.78" y2="658.78" stroke="#000" stroke-width="2.8"/>
<text x="40.9" y="662.88" text-anchor="end" font-size="11.3" fill="#111">0.50</text>
<line x1="42.7" x2="46.3" y1="705.39" y2="705.39" stroke="#000" stroke-width="2.8"/>
<text x="40.9" y="709.49" text-anchor="end" font-size="11.3" fill="#111">0.25</text>
<line x1="42.7" x2="46.3" y1="752" y2="752" stroke="#000" stroke-width="2.8"/>
<text x="40.9" y="756.1" text-anchor="end" font-size="11.3" fill="#111">0.00</text>
<line x1="59.5" x2="59.5" y1="761.1" y2="765.4" stroke="#000" stroke-width="2.8"/>
<text transform="translate(64.3,777.3) rotate(-45)" text-anchor="end" font-size="11.5" fill="#111">ALL mix</text>
<line x1="80.8" x2="80.8" y1="761.1" y2="765.4" stroke="#000" stroke-width="2.8"/>
<text transform="translate(85.6,777.3) rotate(-45)" text-anchor="end" font-size="11.5" fill="#111">TIG</text>
<line x1="102.1" x2="102.1" y1="761.1" y2="765.4" stroke="#000" stroke-width="2.8"/>
<text transform="translate(106.9,777.3) rotate(-45)" text-anchor="end" font-size="11.5" fill="#111">TIG-TET</text>
<line x1="123.45" x2="123.45" y1="761.1" y2="765.4" stroke="#000" stroke-width="2.8"/>
<text transform="translate(128.25,777.3) rotate(-45)" text-anchor="end" font-size="11.5" fill="#111">TIG-TET-DOX</text>
<text transform="translate(150.9,657.8) rotate(-90)" text-anchor="middle" font-size="15" font-weight="bold" fill="#000">% change</text>
<line x1="178" x2="181.5" y1="589.9" y2="589.9" stroke="#000" stroke-width="2.8"/>
<text x="176.2" y="593.6" text-anchor="end" font-size="11.3" fill="#111">300</text>
<line x1="178" x2="181.5" y1="630.42" y2="630.42" stroke="#000" stroke-width="2.8"/>
<text x="176.2" y="634.12" text-anchor="end" font-size="11.3" fill="#111">200</text>
<line x1="178" x2="181.5" y1="670.95" y2="670.95" stroke="#000" stroke-width="2.8"/>
<text x="176.2" y="674.65" text-anchor="end" font-size="11.3" fill="#111">100</text>
<line x1="178" x2="181.5" y1="711.48" y2="711.48" stroke="#000" stroke-width="2.8"/>
<text x="176.2" y="715.18" text-anchor="end" font-size="11.3" fill="#111">0</text>
<line x1="178" x2="181.5" y1="752" y2="752" stroke="#000" stroke-width="2.8"/>
<text x="176.2" y="755.7" text-anchor="end" font-size="11.3" fill="#111">-100</text>
<line x1="194.4" x2="194.4" y1="761.1" y2="765.4" stroke="#000" stroke-width="2.8"/>
<text transform="translate(199.2,777.3) rotate(-45)" text-anchor="end" font-size="11.5" fill="#111">ALL mix</text>
<line x1="215.6" x2="215.6" y1="761.1" y2="765.4" stroke="#000" stroke-width="2.8"/>
<text transform="translate(220.4,777.3) rotate(-45)" text-anchor="end" font-size="11.5" fill="#111">TIG</text>
<line x1="236.7" x2="236.7" y1="761.1" y2="765.4" stroke="#000" stroke-width="2.8"/>
<text transform="translate(241.5,777.3) rotate(-45)" text-anchor="end" font-size="11.5" fill="#111">TIG-TET</text>
<line x1="257.9" x2="257.9" y1="761.1" y2="765.4" stroke="#000" stroke-width="2.8"/>
<text transform="translate(262.7,777.3) rotate(-45)" text-anchor="end" font-size="11.5" fill="#111">TIG-TET-DOX</text>
<polyline points="194.4,711.5 215.6,568.5 236.7,566.7 257.9,566.7" fill="none" stroke="#7570b3" stroke-width="2.2" stroke-linejoin="round"/>
<circle cx="194.4" cy="711.5" r="4.4" fill="#7570b3"/>
<circle cx="215.6" cy="568.5" r="4.4" fill="#7570b3"/>
<circle cx="236.7" cy="566.7" r="4.4" fill="#7570b3"/>
<circle cx="257.9" cy="566.7" r="4.4" fill="#7570b3"/>
<polyline points="194.4,711.5 215.6,752 236.7,752 257.9,752" fill="none" stroke="#f9c66b" stroke-width="2.2" stroke-linejoin="round"/>
<circle cx="194.4" cy="711.5" r="4.4" fill="#f9c66b"/>
<circle cx="215.6" cy="752" r="4.4" fill="#f9c66b"/>
<circle cx="236.7" cy="752" r="4.4" fill="#f9c66b"/>
<circle cx="257.9" cy="752" r="4.4" fill="#f9c66b"/>
<polyline points="194.4,711.5 215.6,568.5" fill="none" stroke="#7570b3" stroke-width="2.2"/>
<rect x="182.5" y="557.1" width="87.3" height="203.4" fill="none" stroke="#000" stroke-width="2.5"/>
<text x="282" y="573.5" font-size="25" font-weight="bold" fill="#000">f</text>
<text transform="translate(301,658.6) rotate(-90)" text-anchor="middle" font-size="15" font-weight="bold" fill="#000">rel. abundance</text>
<rect x="333.9" y="565.55" width="19.2" height="7.55" fill="#2e2a53"/>
<rect x="333.9" y="572.3" width="19.2" height="6.9" fill="#3f3a72"/>
<rect x="333.9" y="578.4" width="19.2" height="6.8" fill="#524c93"/>
<rect x="333.9" y="584.4" width="19.2" height="5" fill="#6d67ae"/>
<rect x="333.9" y="588.6" width="19.2" height="9.7" fill="#8b85c1"/>
<rect x="333.9" y="597.5" width="19.2" height="9.5" fill="#aba7d3"/>
<rect x="333.9" y="606.2" width="19.2" height="11.1" fill="#784508"/>
<rect x="333.9" y="616.5" width="19.2" height="9.9" fill="#aa6508"/>
<rect x="333.9" y="625.6" width="19.2" height="7.4" fill="#df8a0c"/>
<rect x="333.9" y="632.2" width="19.2" height="9.9" fill="#f6a324"/>
<rect x="333.9" y="641.3" width="19.2" height="9.9" fill="#f8b552"/>
<rect x="333.9" y="650.4" width="19.2" height="6" fill="#f9cb85"/>
<rect x="333.9" y="655.6" width="19.2" height="7.7" fill="#176650"/>
<rect x="333.9" y="662.5" width="19.2" height="9.8" fill="#1d8f6c"/>
<rect x="333.9" y="671.5" width="19.2" height="7.7" fill="#22c08e"/>
<rect x="333.9" y="678.4" width="19.2" height="7.9" fill="#3ad9a6"/>
<rect x="333.9" y="685.5" width="19.2" height="5.9" fill="#66e2bc"/>
<rect x="333.9" y="690.6" width="19.2" height="10.6" fill="#93ead2"/>
<rect x="333.9" y="700.4" width="19.2" height="8.9" fill="#6f2013"/>
<rect x="333.9" y="708.5" width="19.2" height="7.4" fill="#9e2e19"/>
<rect x="333.9" y="715.1" width="19.2" height="8.3" fill="#cd3c1e"/>
<rect x="333.9" y="722.6" width="19.2" height="7.8" fill="#e4573a"/>
<rect x="333.9" y="729.6" width="19.2" height="8.7" fill="#eb7b65"/>
<rect x="333.9" y="737.5" width="19.2" height="9.9" fill="#f19f8f"/>
<rect x="333.9" y="746.6" width="19.2" height="5.4" fill="#808080"/>
<rect x="355.2" y="565.55" width="19.2" height="106.15" fill="#3f3a72"/>
<rect x="355.2" y="670.9" width="19.2" height="5.7" fill="#6d67ae"/>
<rect x="355.2" y="675.8" width="19.2" height="75.1" fill="#aba7d3"/>
<rect x="355.2" y="750.1" width="19.2" height="1.8" fill="#aa6508"/>
<rect x="355.2" y="751.1" width="19.2" height="0.9" fill="#22c08e"/>
<rect x="376.5" y="565.55" width="19.2" height="152.05" fill="#3f3a72"/>
<rect x="376.5" y="716.8" width="19.2" height="2.9" fill="#6d67ae"/>
<rect x="376.5" y="718.9" width="19.2" height="33.1" fill="#aba7d3"/>
<rect x="376.5" y="751.5" width="19.2" height="0.5" fill="#66e2bc"/>
<rect x="397.85" y="565.55" width="19.2" height="160.45" fill="#3f3a72"/>
<rect x="397.85" y="725.2" width="19.2" height="4.9" fill="#6d67ae"/>
<rect x="397.85" y="729.3" width="19.2" height="22.7" fill="#aba7d3"/>
<rect x="397.85" y="751.5" width="19.2" height="0.5" fill="#66e2bc"/>
<rect x="331.3" y="557.1" width="87.7" height="203.4" fill="none" stroke="#000" stroke-width="2.5"/>
<line x1="326.7" x2="330.3" y1="565.55" y2="565.55" stroke="#000" stroke-width="2.8"/>
<text x="325.8" y="569.65" text-anchor="end" font-size="11.3" fill="#111">1.00</text>
<line x1="326.7" x2="330.3" y1="612.16" y2="612.16" stroke="#000" stroke-width="2.8"/>
<text x="325.8" y="616.26" text-anchor="end" font-size="11.3" fill="#111">0.75</text>
<line x1="326.7" x2="330.3" y1="658.78" y2="658.78" stroke="#000" stroke-width="2.8"/>
<text x="325.8" y="662.88" text-anchor="end" font-size="11.3" fill="#111">0.50</text>
<line x1="326.7" x2="330.3" y1="705.39" y2="705.39" stroke="#000" stroke-width="2.8"/>
<text x="325.8" y="709.49" text-anchor="end" font-size="11.3" fill="#111">0.25</text>
<line x1="326.7" x2="330.3" y1="752" y2="752" stroke="#000" stroke-width="2.8"/>
<text x="325.8" y="756.1" text-anchor="end" font-size="11.3" fill="#111">0.00</text>
<line x1="343.5" x2="343.5" y1="761.1" y2="765.4" stroke="#000" stroke-width="2.8"/>
<text transform="translate(348.3,777.3) rotate(-45)" text-anchor="end" font-size="11.5" fill="#111">ALL mix</text>
<line x1="364.8" x2="364.8" y1="761.1" y2="765.4" stroke="#000" stroke-width="2.8"/>
<text transform="translate(369.6,777.3) rotate(-45)" text-anchor="end" font-size="11.5" fill="#111">TIG</text>
<line x1="386.1" x2="386.1" y1="761.1" y2="765.4" stroke="#000" stroke-width="2.8"/>
<text transform="translate(390.9,777.3) rotate(-45)" text-anchor="end" font-size="11.5" fill="#111">TIG-DOX</text>
<line x1="407.45" x2="407.45" y1="761.1" y2="765.4" stroke="#000" stroke-width="2.8"/>
<text transform="translate(412.25,777.3) rotate(-45)" text-anchor="end" font-size="11.5" fill="#111">TIG-DOX-TET</text>
<text transform="translate(434.9,657.8) rotate(-90)" text-anchor="middle" font-size="15" font-weight="bold" fill="#000">% change</text>
<line x1="462" x2="465.5" y1="589.9" y2="589.9" stroke="#000" stroke-width="2.8"/>
<text x="460.2" y="593.6" text-anchor="end" font-size="11.3" fill="#111">300</text>
<line x1="462" x2="465.5" y1="630.35" y2="630.35" stroke="#000" stroke-width="2.8"/>
<text x="460.2" y="634.05" text-anchor="end" font-size="11.3" fill="#111">200</text>
<line x1="462" x2="465.5" y1="670.8" y2="670.8" stroke="#000" stroke-width="2.8"/>
<text x="460.2" y="674.5" text-anchor="end" font-size="11.3" fill="#111">100</text>
<line x1="462" x2="465.5" y1="711.25" y2="711.25" stroke="#000" stroke-width="2.8"/>
<text x="460.2" y="714.95" text-anchor="end" font-size="11.3" fill="#111">0</text>
<line x1="462" x2="465.5" y1="751.7" y2="751.7" stroke="#000" stroke-width="2.8"/>
<text x="460.2" y="755.4" text-anchor="end" font-size="11.3" fill="#111">-100</text>
<line x1="478.4" x2="478.4" y1="761.1" y2="765.4" stroke="#000" stroke-width="2.8"/>
<text transform="translate(483.2,777.3) rotate(-45)" text-anchor="end" font-size="11.5" fill="#111">ALL mix</text>
<line x1="499.6" x2="499.6" y1="761.1" y2="765.4" stroke="#000" stroke-width="2.8"/>
<text transform="translate(504.4,777.3) rotate(-45)" text-anchor="end" font-size="11.5" fill="#111">TIG</text>
<line x1="520.7" x2="520.7" y1="761.1" y2="765.4" stroke="#000" stroke-width="2.8"/>
<text transform="translate(525.5,777.3) rotate(-45)" text-anchor="end" font-size="11.5" fill="#111">TIG-DOX</text>
<line x1="541.9" x2="541.9" y1="761.1" y2="765.4" stroke="#000" stroke-width="2.8"/>
<text transform="translate(546.7,777.3) rotate(-45)" text-anchor="end" font-size="11.5" fill="#111">TIG-DOX-TET</text>
<polyline points="478.4,711.2 499.6,568 520.7,566.8 541.9,566.8" fill="none" stroke="#7570b3" stroke-width="2.2" stroke-linejoin="round"/>
<circle cx="478.4" cy="711.2" r="4.4" fill="#7570b3"/>
<circle cx="499.6" cy="568" r="4.4" fill="#7570b3"/>
<circle cx="520.7" cy="566.8" r="4.4" fill="#7570b3"/>
<circle cx="541.9" cy="566.8" r="4.4" fill="#7570b3"/>
<polyline points="478.4,711.2 499.6,751.7 520.7,751.7 541.9,751.7" fill="none" stroke="#f9c66b" stroke-width="2.2" stroke-linejoin="round"/>
<circle cx="478.4" cy="711.2" r="4.4" fill="#f9c66b"/>
<circle cx="499.6" cy="751.7" r="4.4" fill="#f9c66b"/>
<circle cx="520.7" cy="751.7" r="4.4" fill="#f9c66b"/>
<circle cx="541.9" cy="751.7" r="4.4" fill="#f9c66b"/>
<polyline points="478.4,711.2 499.6,568" fill="none" stroke="#7570b3" stroke-width="2.2"/>
<rect x="466.5" y="557.1" width="87.3" height="203.4" fill="none" stroke="#000" stroke-width="2.5"/>
<text x="569.6" y="11.3" font-size="15" font-weight="bold" fill="#000">strain</text>
<rect x="570.8" y="18.2" width="12.3" height="12.3" fill="#2e2a53"/>
<text x="591.7" y="27.7" font-size="11.2" fill="#111">tetX2</text>
<rect x="570.8" y="33.2" width="12.3" height="12.3" fill="#3f3a72"/>
<text x="591.7" y="42.7" font-size="11.2" fill="#111">tetX3</text>
<rect x="570.8" y="48.2" width="12.3" height="12.3" fill="#524c93"/>
<text x="591.7" y="57.7" font-size="11.2" fill="#111">tetX6</text>
<rect x="570.8" y="63.2" width="12.3" height="12.3" fill="#6d67ae"/>
<text x="591.7" y="72.7" font-size="11.2" fill="#111">tetX7</text>
<rect x="570.8" y="78.2" width="12.3" height="12.3" fill="#8b85c1"/>
<text x="591.7" y="87.7" font-size="11.2" fill="#111">tetX8</text>
<rect x="570.8" y="93.2" width="12.3" height="12.3" fill="#aba7d3"/>
<text x="591.7" y="102.7" font-size="11.2" fill="#111">tetX12</text>
<rect x="570.8" y="113.5" width="12.3" height="12.3" fill="#176650"/>
<text x="591.7" y="123" font-size="11.2" fill="#111">tetA</text>
<rect x="570.8" y="128.5" width="12.3" height="12.3" fill="#1d8f6c"/>
<text x="591.7" y="138" font-size="11.2" fill="#111">tetB</text>
<rect x="570.8" y="143.5" width="12.3" height="12.3" fill="#22c08e"/>
<text x="591.7" y="153" font-size="11.2" fill="#111">tetE</text>
<rect x="570.8" y="158.5" width="12.3" height="12.3" fill="#3ad9a6"/>
<text x="591.7" y="168" font-size="11.2" fill="#111">tetG</text>
<rect x="570.8" y="173.5" width="12.3" height="12.3" fill="#66e2bc"/>
<text x="591.7" y="183" font-size="11.2" fill="#111">tetL</text>
<rect x="570.8" y="188.5" width="12.3" height="12.3" fill="#93ead2"/>
<text x="591.7" y="198" font-size="11.2" fill="#111">tet39</text>
<rect x="570.8" y="210.2" width="12.3" height="12.3" fill="#808080"/>
<text x="591.7" y="219.7" font-size="11.2" fill="#111">empty</text>
<rect x="639.6" y="18.2" width="12.3" height="12.3" fill="#784508"/>
<text x="660.5" y="27.7" font-size="11.2" fill="#111">tetM</text>
<rect x="639.6" y="33.2" width="12.3" height="12.3" fill="#aa6508"/>
<text x="660.5" y="42.7" font-size="11.2" fill="#111">tetO</text>
<rect x="639.6" y="48.2" width="12.3" height="12.3" fill="#df8a0c"/>
<text x="660.5" y="57.7" font-size="11.2" fill="#111">tetS</text>
<rect x="639.6" y="63.2" width="12.3" height="12.3" fill="#f6a324"/>
<text x="660.5" y="72.7" font-size="11.2" fill="#111">tetW</text>
<rect x="639.6" y="78.2" width="12.3" height="12.3" fill="#f8b552"/>
<text x="660.5" y="87.7" font-size="11.2" fill="#111">tet32</text>
<rect x="639.6" y="93.2" width="12.3" height="12.3" fill="#f9cb85"/>
<text x="660.5" y="102.7" font-size="11.2" fill="#111">tet36</text>
<rect x="639.6" y="113.5" width="12.3" height="12.3" fill="#6f2013"/>
<text x="660.5" y="123" font-size="11.2" fill="#111">tet47</text>
<rect x="639.6" y="128.5" width="12.3" height="12.3" fill="#9e2e19"/>
<text x="660.5" y="138" font-size="11.2" fill="#111">tet50</text>
<rect x="639.6" y="143.5" width="12.3" height="12.3" fill="#cd3c1e"/>
<text x="660.5" y="153" font-size="11.2" fill="#111">tet51</text>
<rect x="639.6" y="158.5" width="12.3" height="12.3" fill="#e4573a"/>
<text x="660.5" y="168" font-size="11.2" fill="#111">tet54</text>
<rect x="639.6" y="173.5" width="12.3" height="12.3" fill="#eb7b65"/>
<text x="660.5" y="183" font-size="11.2" fill="#111">tet55</text>
<rect x="639.6" y="188.5" width="12.3" height="12.3" fill="#f19f8f"/>
<text x="660.5" y="198" font-size="11.2" fill="#111">tet56</text>
<text x="569.9" y="251.4" font-size="15" font-weight="bold" fill="#000">mechanism</text>
<line x1="570.1" x2="582.2" y1="265.9" y2="265.9" stroke="#7570b3" stroke-width="2.2"/>
<circle cx="576.2" cy="265.9" r="4.4" fill="#7570b3"/>
<text x="591.3" y="269.9" font-size="11.2" fill="#111">DES1</text>
<line x1="570.1" x2="582.2" y1="281.1" y2="281.1" stroke="#f9c66b" stroke-width="2.2"/>
<circle cx="576.2" cy="281.1" r="4.4" fill="#f9c66b"/>
<text x="591.3" y="285.1" font-size="11.2" fill="#111">RPP</text>
<line x1="570.1" x2="582.2" y1="296.3" y2="296.3" stroke="#1b9e77" stroke-width="2.2"/>
<circle cx="576.2" cy="296.3" r="4.4" fill="#1b9e77"/>
<text x="591.3" y="300.3" font-size="11.2" fill="#111">EFF</text>
<line x1="570.1" x2="582.2" y1="311.5" y2="311.5" stroke="#e4572e" stroke-width="2.2"/>
<circle cx="576.2" cy="311.5" r="4.4" fill="#e4572e"/>
<text x="591.3" y="315.5" font-size="11.2" fill="#111">DES2</text>
<line x1="570.1" x2="582.2" y1="326.7" y2="326.7" stroke="#808080" stroke-width="2.2"/>
<circle cx="576.2" cy="326.7" r="4.4" fill="#808080"/>
<text x="591.3" y="330.7" font-size="11.2" fill="#111">none</text>
</svg>
</body></html>
